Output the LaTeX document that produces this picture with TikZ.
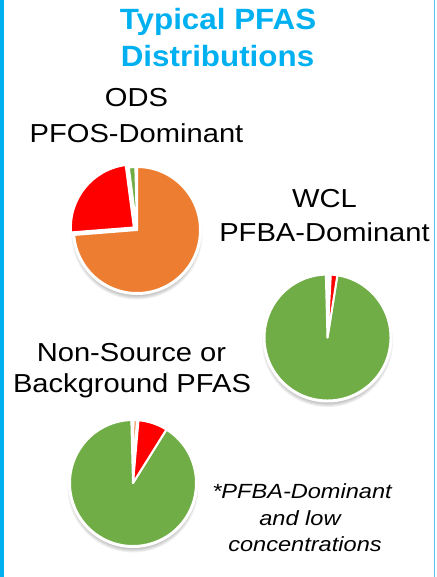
\documentclass[tikz,border=0pt]{standalone}
\usepackage{fontspec}
\setmainfont{Liberation Sans}
\newfontfamily\labfont[FakeStretch=1.12]{Liberation Sans}
\newfontfamily\titfont[FakeStretch=1.07]{Liberation Sans}
\newfontfamily\notefont[FakeStretch=1.15]{Liberation Sans}
\definecolor{titleblue}{HTML}{00B0F0}
\definecolor{edgeblue}{HTML}{5BC0EB}
\definecolor{pieorange}{HTML}{ED7D31}
\definecolor{piered}{HTML}{FF0000}
\definecolor{piegreen}{HTML}{70AD47}
\tikzset{
  titletext/.style={anchor=base, inner sep=0pt, text=titleblue, font=\titfont\bfseries\fontsize{29.3}{34}\selectfont},
  labtext/.style={anchor=base, inner sep=0pt, font=\labfont\fontsize{26}{30}\selectfont},
  notetext/.style={anchor=base, inner sep=0pt, font=\notefont\itshape\fontsize{20.5}{24}\selectfont},
  slice/.style={draw=white, line width=2pt, line join=round},
}
\newcommand{\pieshadow}{%
  \foreach \k in {0,...,6}{
    \fill[black, opacity=0.06] (0,-4) circle[radius=65.5-\k*1.1];
  }
  \fill[white] (0,0) circle[radius=65];
}
\begin{document}
\begin{tikzpicture}[x=1pt, y=-1pt]
\useasboundingbox (0,0) rectangle (436,577);
\fill[white] (0,0) rectangle (436,577);
% borders
\fill[titleblue] (0,0) rectangle (4,577);
\draw[edgeblue, line width=1.2pt] (434.5,0) -- (434.5,577);

% title
\node[titletext] (t1) at (218,30) {Typical PFAS};
\node[titletext] (t2) at (217.5,67) {Distributions};

% labels
\node[labtext] (ods1) at (136.5,106.7) {ODS};
\node[labtext] (ods2) at (136.5,143) {PFOS-Dominant};
\node[labtext] (wcl1) at (324.5,207.3) {WCL};
\node[labtext] (wcl2) at (324.5,241.7) {PFBA-Dominant};
\node[labtext] (ns1) at (131.5,361.7) {Non-Source or};
\node[labtext] (ns2) at (132,392.7) {Background PFAS};
\node[notetext] (n1) at (302,498) {*PFBA-Dominant};
\node[notetext] (n2) at (300,525) {and low};
\node[notetext] (n3) at (305,551.7) {concentrations};

% pie 1: ODS
\begin{scope}[shift={(137,230)}, yscale=-1]
  \pieshadow
  \fill[pieorange, slice] (0,0) -- (90:63) arc[start angle=90, end angle=-175.5, radius=63] -- cycle;
  \begin{scope}[shift={(141:4)}]
    \fill[piered, slice] (0,0) -- (184.5:63) arc[start angle=184.5, end angle=97.5, radius=63] -- cycle;
  \end{scope}
  \fill[piegreen, slice] (0,0) -- (97.5:63) arc[start angle=97.5, end angle=91.5, radius=63] -- cycle;
\end{scope}

% pie 2: WCL
\begin{scope}[shift={(327.5,337.5)}, yscale=-1]
  \pieshadow
  \fill[piegreen, slice] (0,0) -- (81:63) arc[start angle=81, end angle=-268.5, radius=63] -- cycle;
  \fill[piered, slice] (0,0) -- (87:63) arc[start angle=87, end angle=81, radius=63] -- cycle;
\end{scope}

% pie 3: Non-source
\begin{scope}[shift={(133,483)}, yscale=-1]
  \pieshadow
  \fill[piegreen, slice] (0,0) -- (58:63) arc[start angle=58, end angle=-268.5, radius=63] -- cycle;
  \fill[piered, slice] (0,0) -- (85:63) arc[start angle=85, end angle=58, radius=63] -- cycle;
  \fill[pieorange, slice] (0,0) -- (89.5:63) arc[start angle=89.5, end angle=86.5, radius=63] -- cycle;
\end{scope}
\end{tikzpicture}
\end{document}
